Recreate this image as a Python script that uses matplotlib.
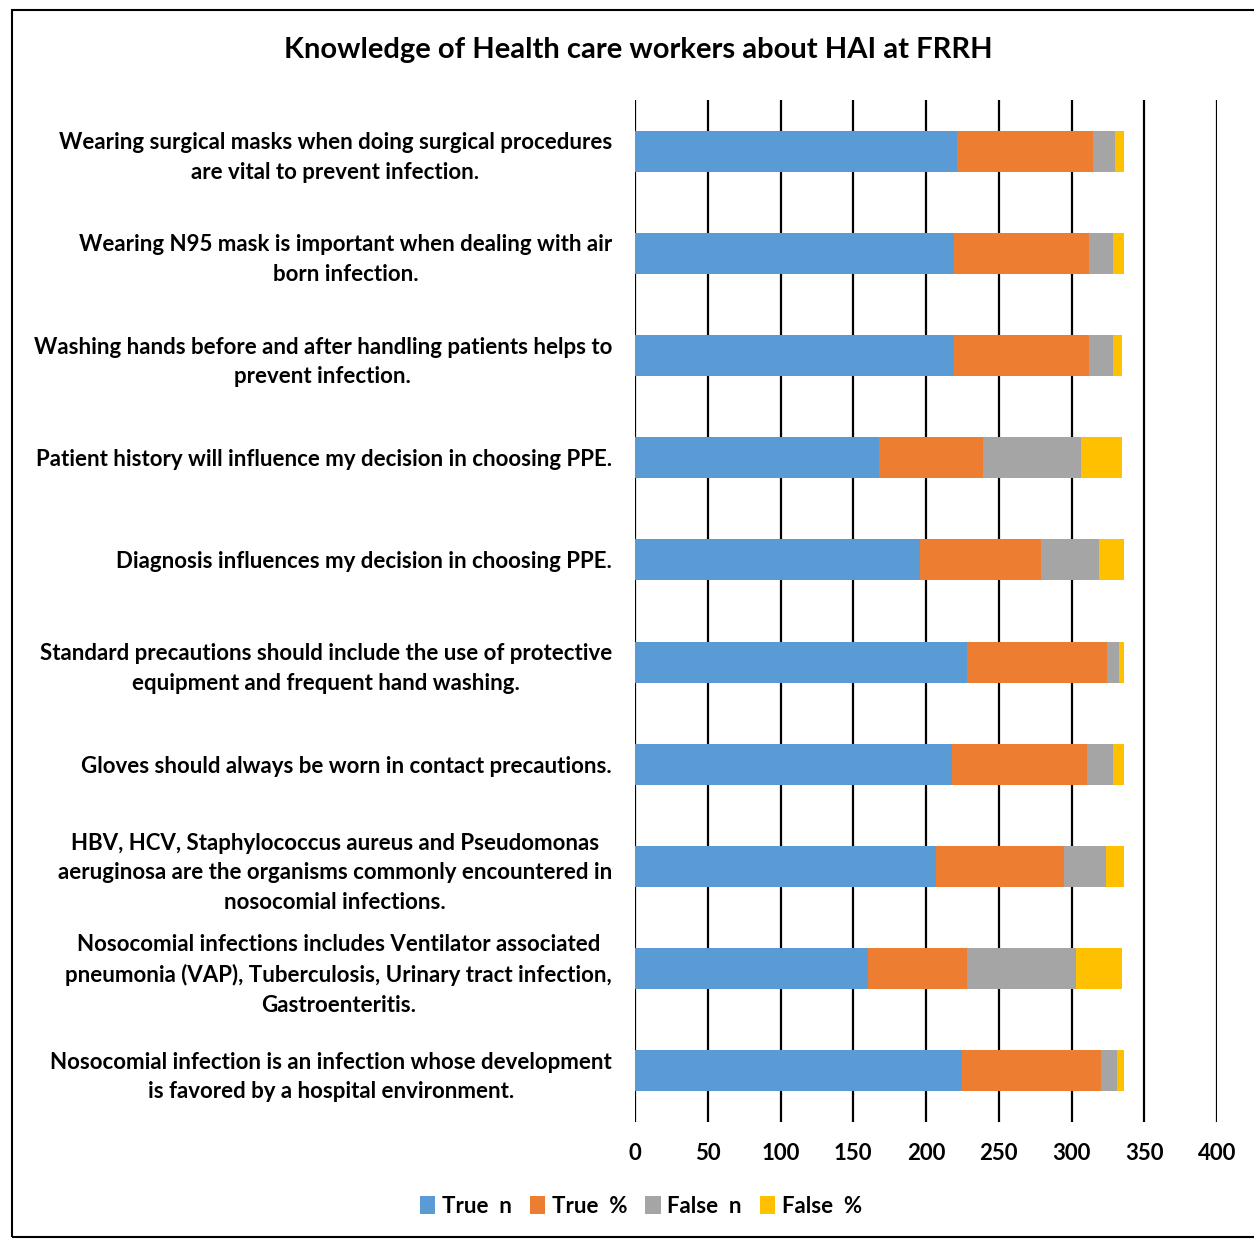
import matplotlib.pyplot as plt
from matplotlib.patches import Rectangle

plt.rcParams['font.family'] = ['Lato', 'DejaVu Sans']
plt.rcParams['font.weight'] = 'bold'

questions = [
    "Wearing surgical masks when doing surgical procedures\nare vital to prevent infection.",
    "Wearing N95 mask is important when dealing with air\nborn infection.",
    "Washing hands before and after handling patients helps to\nprevent infection.",
    "Patient history will influence my decision in choosing PPE.",
    "Diagnosis influences my decision in choosing PPE.",
    "Standard precautions should include the use of protective\nequipment and frequent hand washing.",
    "Gloves should always be worn in contact precautions.",
    "HBV, HCV, Staphylococcus aureus and Pseudomonas\naeruginosa are the organisms commonly encountered in\nnosocomial infections.",
    "Nosocomial infections includes Ventilator associated\npneumonia (VAP), Tuberculosis, Urinary tract infection,\nGastroenteritis.",
    "Nosocomial infection is an infection whose development\nis favored by a hospital environment.",
]
true_n = [221, 219, 219, 168, 196, 228, 218, 207, 160, 225]
true_pct = [93.6, 92.8, 93.2, 71.5, 83.1, 96.6, 92.4, 87.7, 68.1, 95.3]
false_n = [15, 17, 16, 67, 40, 8, 18, 29, 75, 11]
false_pct = [6.4, 7.2, 6.8, 28.5, 16.9, 3.4, 7.6, 12.3, 31.9, 4.7]

series = [("True  n", true_n, "#5B9BD5"),
          ("True  %", true_pct, "#ED7D31"),
          ("False  n", false_n, "#A5A5A5"),
          ("False  %", false_pct, "#FFC000")]

fig = plt.figure(figsize=(12.54, 12.39), dpi=100)
ax = fig.add_axes([0.5064, 0.0944, 0.4641, 0.8249])

y = list(range(len(questions)))
left = [0] * len(questions)
for name, vals, col in series:
    ax.barh(y, vals, left=left, height=0.4, color=col, label=name, zorder=3)
    left = [a + b for a, b in zip(left, vals)]

ax.set_xlim(0, 400)
ax.set_ylim(9.5, -0.5)
ax.set_xticks(range(0, 401, 50))
ax.xaxis.grid(True, color='black', linewidth=1.6, zorder=0)
ax.set_axisbelow(True)
for s in ax.spines.values():
    s.set_visible(False)
ax.tick_params(axis='x', length=0, pad=15)
ax.set_yticks(y)
ax.set_yticklabels(questions, fontsize=16, fontweight='bold')
for t in ax.get_yticklabels():
    t.set_multialignment('center')
    t.set_linespacing(1.5)
ax.tick_params(axis='y', length=0, pad=16.5)
for t in ax.get_xticklabels():
    t.set_fontsize(16)
    t.set_fontweight('bold')

fig.text(0.509, 0.96, "Knowledge of Health care workers about HAI at FRRH",
         ha='center', va='center', fontsize=21, fontweight='bold')

fig.legend(loc='center', bbox_to_anchor=(0.511, 0.0266), ncol=4, frameon=False,
           handlelength=0.7, handleheight=0.9, handletextpad=0.3,
           columnspacing=0.8, prop={'weight': 'bold', 'size': 16})

fig.patches.append(Rectangle((12 / 1254, 2 / 1239), 1.1, 1 - 12 / 1239,
                             transform=fig.transFigure, fill=False,
                             edgecolor='black', linewidth=1.5))

fig.savefig('out.png', dpi=100)
